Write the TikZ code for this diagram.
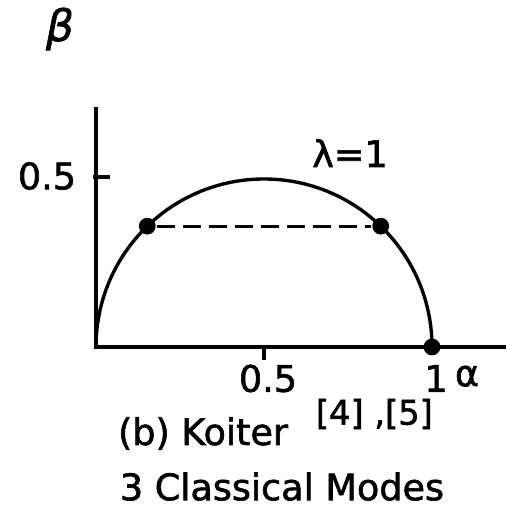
\documentclass[tikz,border=0pt]{standalone}
\usepackage{fontspec}
\setmainfont{DejaVu Sans}[FakeBold=1.6, ItalicFeatures={FakeBold=1.6}]
\usetikzlibrary{positioning, calc}
\tikzset{
  every picture/.style={font=\fontsize{26}{30}\selectfont, line width=2.2pt},
  axis/.style={line width=2.8pt},
  curve/.style={line width=2.4pt},
  dot/.style={circle, fill=black, inner sep=0pt, minimum size=0.42cm},
  link/.style={line width=2.2pt, dash pattern=on 0.45cm off 0.2cm},
  lbl/.style={inner sep=1pt},
  refs/.style={font=\fontsize{24}{27}\selectfont, inner sep=1pt},
}

\begin{document}
\begin{tikzpicture}
  \useasboundingbox (-2.4,-4.125) rectangle (10.25,8.675);
  % axes
  \coordinate (O) at (0,0);
  \coordinate (ytop) at (0,6.0);
  \coordinate (xend) at (10.25,0);
  \draw[axis] (ytop) -- (O) -- (xend);
  \node[lbl, font=\fontsize{31}{34}\selectfont\itshape] (beta) at (-0.9,7.95) {β};
  % ticks at 0.5
  \coordinate (ytick) at (0,4.25);
  \coordinate (xtick) at (4.2,0);
  \draw[axis] ([xshift=-0.08cm]ytick) -- ([xshift=0.35cm]ytick);
  \draw[axis] (xtick) -- ([yshift=-0.33cm]xtick);
  \node[lbl] (yhalf) at (-1.225,4.275) {0.5};
  \node[lbl, anchor=base] (xhalf) at (4.3,-1.12) {0.5};
  \node[lbl, anchor=base] (xone) at (8.5,-1.12) {1};
  \node[lbl, anchor=base] (alpha) at (9.275,-0.98) {α};
  % lambda = 1 curve
  \draw[curve] (O) arc (180:0:4.2);
  \node[lbl, anchor=base] (lam) at (6.35,4.5) {λ=1};
  \node[dot] (pl) at ($(xtick)+(134:4.2)$) {};
  \node[dot] (pr) at ($(xtick)+(46:4.2)$) {};
  \node[dot] (pe) at (8.4,0) {};
  \draw[link] (pl) -- (pr);
  % caption
  \node[lbl, anchor=base] (cap) at (2.675,-2.45) {(b) Koiter};
  \node[refs] (refs) at (6.96,-1.675) {[4] ,[5]};
  \node[lbl] (modes) at (4.65,-3.49) {3 Classical Modes};
\end{tikzpicture}
\end{document}
